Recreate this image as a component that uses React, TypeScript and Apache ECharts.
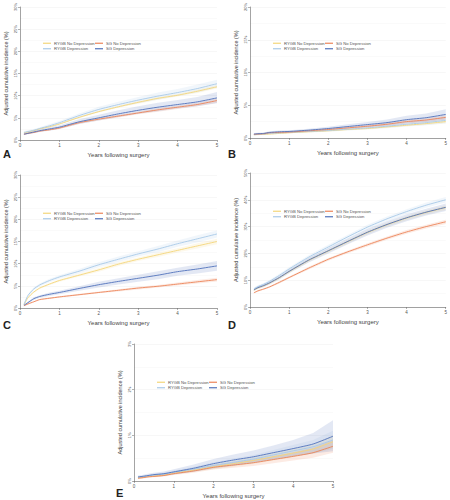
import React, { useEffect, useRef } from "react";
import * as echarts from "echarts";

// ---- data (percent) ----
const YEARS = [0.1, 0.2, 0.35, 0.5, 0.75, 1, 1.5, 2, 2.5, 3, 3.5, 4, 4.5, 5];
const SERIES_NAMES = ["RYGB No Depression", "RYGB Depression", "SG No Depression", "SG Depression"];
const COLORS = ["#F4D67A", "#A8C9E8", "#EC8559", "#5072BB"];
const PANEL_LETTERS = ["A", "B", "C", "D", "E"];
const Y_MAX = [30, 20, 30, 50, 3];
const Y_STEP = [5, 5, 5, 10, 1];
const X_TICKS = [0, 1, 2, 3, 4, 5];

// Panel A
const A_rygbNo = [1.6, 1.8, 2.1, 2.5, 3.0, 3.6, 5.1, 6.4, 7.5, 8.5, 9.4, 10.1, 11.0, 12.0];
const A_rygbNoLo = [1.5, 1.7, 2.0, 2.4, 2.9, 3.5, 4.9, 6.2, 7.3, 8.2, 9.1, 9.8, 10.6, 11.6];
const A_rygbNoHi = [1.7, 1.9, 2.2, 2.6, 3.1, 3.7, 5.3, 6.6, 7.7, 8.8, 9.7, 10.4, 11.4, 12.4];
const A_rygbDep = [1.7, 1.9, 2.2, 2.6, 3.2, 3.9, 5.5, 6.9, 8.0, 9.0, 9.9, 10.7, 11.6, 12.7];
const A_rygbDepLo = [1.4, 1.6, 1.9, 2.3, 2.8, 3.5, 5.0, 6.3, 7.4, 8.3, 9.1, 9.9, 10.7, 11.8];
const A_rygbDepHi = [2.0, 2.2, 2.5, 2.9, 3.6, 4.3, 6.0, 7.5, 8.6, 9.7, 10.7, 11.5, 12.5, 13.6];
const A_sgNo = [1.3, 1.5, 1.7, 2.0, 2.3, 2.7, 3.9, 4.7, 5.4, 6.1, 6.8, 7.4, 8.0, 8.9];
const A_sgNoLo = [1.2, 1.4, 1.6, 1.9, 2.2, 2.5, 3.6, 4.4, 5.1, 5.8, 6.4, 7.0, 7.6, 8.4];
const A_sgNoHi = [1.4, 1.6, 1.8, 2.1, 2.4, 2.9, 4.2, 5.0, 5.7, 6.4, 7.2, 7.8, 8.4, 9.4];
const A_sgDep = [1.3, 1.5, 1.8, 2.1, 2.5, 2.9, 4.1, 5.0, 5.9, 6.7, 7.4, 8.0, 8.6, 9.5];
const A_sgDepLo = [1.1, 1.3, 1.5, 1.8, 2.1, 2.5, 3.6, 4.4, 5.2, 5.9, 6.5, 7.1, 7.6, 8.3];
const A_sgDepHi = [1.5, 1.7, 2.1, 2.4, 2.9, 3.3, 4.7, 5.7, 6.7, 7.6, 8.4, 9.0, 9.7, 10.8];

// Panel B
const B_rygbNo = [0.5, 0.52, 0.55, 0.6, 0.7, 0.8, 0.95, 1.1, 1.3, 1.45, 1.7, 1.95, 2.2, 2.5];
const B_rygbNoLo = [0.45, 0.47, 0.5, 0.55, 0.64, 0.73, 0.87, 1.0, 1.18, 1.32, 1.55, 1.78, 2.0, 2.25];
const B_rygbNoHi = [0.55, 0.57, 0.6, 0.65, 0.76, 0.87, 1.03, 1.2, 1.42, 1.58, 1.85, 2.12, 2.4, 2.75];
const B_rygbDep = [0.5, 0.55, 0.6, 0.7, 0.78, 0.85, 1.0, 1.15, 1.35, 1.55, 1.8, 2.1, 2.35, 2.7];
const B_rygbDepLo = [0.4, 0.45, 0.5, 0.58, 0.65, 0.72, 0.85, 0.97, 1.13, 1.3, 1.5, 1.75, 1.95, 2.2];
const B_rygbDepHi = [0.6, 0.65, 0.7, 0.82, 0.91, 0.98, 1.15, 1.33, 1.57, 1.8, 2.1, 2.45, 2.75, 3.2];
const B_sgNo = [0.55, 0.6, 0.65, 0.8, 0.85, 0.9, 1.1, 1.3, 1.55, 1.8, 2.1, 2.5, 2.75, 3.15];
const B_sgNoLo = [0.48, 0.53, 0.58, 0.72, 0.76, 0.8, 0.98, 1.16, 1.38, 1.6, 1.87, 2.23, 2.45, 2.8];
const B_sgNoHi = [0.62, 0.67, 0.72, 0.88, 0.94, 1.0, 1.22, 1.44, 1.72, 2.0, 2.33, 2.77, 3.05, 3.5];
const B_sgDep = [0.6, 0.65, 0.7, 0.85, 0.95, 1.0, 1.2, 1.45, 1.75, 2.05, 2.35, 2.8, 3.1, 3.6];
const B_sgDepLo = [0.45, 0.5, 0.55, 0.68, 0.76, 0.8, 0.97, 1.17, 1.4, 1.65, 1.87, 2.22, 2.45, 2.8];
const B_sgDepHi = [0.75, 0.8, 0.85, 1.02, 1.14, 1.2, 1.43, 1.73, 2.1, 2.45, 2.83, 3.38, 3.75, 4.4];

// Panel C
const C_rygbNo = [0.7, 2.3, 3.6, 4.5, 5.4, 6.2, 7.4, 8.6, 9.9, 11.0, 12.0, 13.0, 14.0, 15.0];
const C_rygbNoLo = [0.6, 2.1, 3.4, 4.3, 5.2, 5.9, 7.1, 8.2, 9.5, 10.6, 11.5, 12.5, 13.4, 14.4];
const C_rygbNoHi = [0.8, 2.5, 3.8, 4.7, 5.6, 6.5, 7.7, 9.0, 10.3, 11.4, 12.5, 13.5, 14.6, 15.6];
const C_rygbDep = [0.8, 2.8, 4.3, 5.2, 6.2, 7.0, 8.3, 9.75, 11.0, 12.2, 13.3, 14.5, 15.6, 16.7];
const C_rygbDepLo = [0.6, 2.5, 4.0, 4.9, 5.8, 6.6, 7.8, 9.2, 10.4, 11.6, 12.6, 13.8, 14.8, 15.9];
const C_rygbDepHi = [1.0, 3.1, 4.6, 5.5, 6.6, 7.4, 8.8, 10.3, 11.6, 12.8, 14.0, 15.2, 16.4, 17.5];
const C_sgNo = [0.5, 0.9, 1.4, 1.9, 2.2, 2.5, 3.0, 3.5, 4.0, 4.5, 4.9, 5.4, 5.9, 6.4];
const C_sgNoLo = [0.4, 0.8, 1.3, 1.75, 2.05, 2.35, 2.8, 3.3, 3.75, 4.2, 4.6, 5.05, 5.5, 5.95];
const C_sgNoHi = [0.6, 1.0, 1.5, 2.05, 2.35, 2.65, 3.2, 3.7, 4.25, 4.8, 5.2, 5.75, 6.3, 6.85];
const C_sgDep = [0.6, 1.2, 2.1, 2.6, 3.1, 3.5, 4.4, 5.25, 6.0, 6.7, 7.4, 8.2, 8.8, 9.5];
const C_sgDepLo = [0.4, 1.0, 1.8, 2.3, 2.7, 3.1, 3.9, 4.6, 5.3, 5.9, 6.5, 7.3, 7.8, 8.4];
const C_sgDepHi = [0.8, 1.4, 2.4, 2.9, 3.5, 3.9, 4.9, 5.9, 6.7, 7.5, 8.3, 9.1, 9.8, 10.6];

// Panel D
const D_rygbNo = [6.3, 7.1, 7.9, 8.9, 10.9, 13.2, 17.4, 20.9, 24.4, 27.8, 30.7, 33.2, 35.3, 37.1];
const D_rygbNoLo = [6.0, 6.8, 7.6, 8.5, 10.5, 12.7, 16.8, 20.3, 23.7, 27.1, 30.0, 32.4, 34.5, 36.2];
const D_rygbNoHi = [6.6, 7.4, 8.2, 9.3, 11.3, 13.7, 18.0, 21.5, 25.1, 28.5, 31.4, 34.0, 36.1, 38.0];
const D_rygbDep = [6.8, 7.6, 8.5, 9.6, 11.8, 14.2, 18.6, 22.4, 26.2, 29.8, 32.9, 35.6, 38.0, 40.0];
const D_rygbDepLo = [6.3, 7.1, 8.0, 9.1, 11.2, 13.6, 17.9, 21.6, 25.4, 28.9, 32.0, 34.7, 37.0, 39.0];
const D_rygbDepHi = [7.3, 8.1, 9.0, 10.1, 12.4, 14.8, 19.3, 23.2, 27.0, 30.7, 33.8, 36.5, 39.0, 41.0];
const D_sgNo = [5.3, 6.0, 6.7, 7.5, 9.2, 11.0, 14.5, 17.8, 20.6, 23.2, 25.7, 28.0, 30.0, 31.8];
const D_sgNoLo = [5.0, 5.7, 6.4, 7.2, 8.8, 10.6, 14.0, 17.3, 20.1, 22.6, 25.1, 27.3, 29.3, 31.0];
const D_sgNoHi = [5.6, 6.3, 7.0, 7.8, 9.6, 11.4, 15.0, 18.3, 21.1, 23.8, 26.3, 28.7, 30.7, 32.6];
const D_sgDep = [6.4, 7.2, 8.0, 9.0, 11.0, 13.3, 17.5, 21.0, 24.5, 27.9, 30.8, 33.3, 35.4, 37.2];
const D_sgDepLo = [6.0, 6.7, 7.4, 8.4, 10.3, 12.6, 16.6, 20.0, 23.4, 26.7, 29.6, 32.0, 34.1, 35.8];
const D_sgDepHi = [6.8, 7.7, 8.6, 9.6, 11.7, 14.0, 18.4, 22.0, 25.6, 29.1, 32.0, 34.6, 36.7, 38.6];

// Panel E
const E_rygbNo = [0.07, 0.08, 0.1, 0.11, 0.13, 0.17, 0.24, 0.31, 0.38, 0.45, 0.53, 0.61, 0.7, 0.86];
const E_rygbNoLo = [0.05, 0.06, 0.08, 0.09, 0.11, 0.14, 0.2, 0.26, 0.32, 0.38, 0.45, 0.52, 0.6, 0.72];
const E_rygbNoHi = [0.09, 0.1, 0.12, 0.13, 0.15, 0.2, 0.28, 0.36, 0.44, 0.52, 0.61, 0.7, 0.8, 1.0];
const E_rygbDep = [0.08, 0.09, 0.11, 0.13, 0.15, 0.19, 0.26, 0.34, 0.41, 0.48, 0.57, 0.66, 0.75, 0.9];
const E_rygbDepLo = [0.06, 0.07, 0.09, 0.1, 0.12, 0.15, 0.21, 0.27, 0.33, 0.39, 0.46, 0.53, 0.6, 0.7];
const E_rygbDepHi = [0.1, 0.11, 0.13, 0.16, 0.18, 0.23, 0.31, 0.41, 0.49, 0.57, 0.68, 0.79, 0.9, 1.1];
const E_sgNo = [0.06, 0.07, 0.09, 0.1, 0.12, 0.16, 0.22, 0.3, 0.35, 0.4, 0.47, 0.54, 0.62, 0.76];
const E_sgNoLo = [0.04, 0.05, 0.07, 0.08, 0.1, 0.13, 0.18, 0.25, 0.29, 0.33, 0.39, 0.45, 0.51, 0.62];
const E_sgNoHi = [0.08, 0.09, 0.11, 0.12, 0.14, 0.19, 0.26, 0.35, 0.41, 0.47, 0.55, 0.63, 0.73, 0.9];
const E_sgDep = [0.09, 0.1, 0.12, 0.14, 0.16, 0.2, 0.28, 0.38, 0.46, 0.53, 0.62, 0.71, 0.81, 0.98];
const E_sgDepLo = [0.06, 0.07, 0.08, 0.1, 0.11, 0.14, 0.2, 0.28, 0.34, 0.4, 0.47, 0.54, 0.6, 0.65];
const E_sgDepHi = [0.12, 0.13, 0.16, 0.18, 0.21, 0.26, 0.36, 0.48, 0.58, 0.67, 0.78, 0.9, 1.05, 1.33];

const PANEL_DATA = [
  [[A_rygbNo, A_rygbNoLo, A_rygbNoHi], [A_rygbDep, A_rygbDepLo, A_rygbDepHi], [A_sgNo, A_sgNoLo, A_sgNoHi], [A_sgDep, A_sgDepLo, A_sgDepHi]],
  [[B_rygbNo, B_rygbNoLo, B_rygbNoHi], [B_rygbDep, B_rygbDepLo, B_rygbDepHi], [B_sgNo, B_sgNoLo, B_sgNoHi], [B_sgDep, B_sgDepLo, B_sgDepHi]],
  [[C_rygbNo, C_rygbNoLo, C_rygbNoHi], [C_rygbDep, C_rygbDepLo, C_rygbDepHi], [C_sgNo, C_sgNoLo, C_sgNoHi], [C_sgDep, C_sgDepLo, C_sgDepHi]],
  [[D_rygbNo, D_rygbNoLo, D_rygbNoHi], [D_rygbDep, D_rygbDepLo, D_rygbDepHi], [D_sgNo, D_sgNoLo, D_sgNoHi], [D_sgDep, D_sgDepLo, D_sgDepHi]],
  [[E_rygbNo, E_rygbNoLo, E_rygbNoHi], [E_rygbDep, E_rygbDepLo, E_rygbDepHi], [E_sgNo, E_sgNoLo, E_sgNoHi], [E_sgDep, E_sgDepLo, E_sgDepHi]],
];

// ---- layout ----
const GRIDS = [
  { left: 20, top: 5, width: 197, height: 135 },
  { left: 250, top: 5, width: 198, height: 133 },
  { left: 20, top: 175, width: 197, height: 133 },
  { left: 250, top: 173, width: 198, height: 134 },
  { left: 134, top: 344, width: 199, height: 137 },
];
const LETTER_POS = [
  [3, 148],
  [228, 148],
  [3, 319],
  [228, 319],
  [116, 487],
];

const FONT = "'Liberation Sans', Arial, sans-serif";
const AXIS_COLOR = "#666";

function bandSeries(p: number, lo: number[], hi: number[], color: string) {
  return {
    type: "custom",
    xAxisIndex: p,
    yAxisIndex: p,
    silent: true,
    z: 1,
    clip: true,
    data: YEARS.map((x, i) => [x, lo[i], hi[i]]),
    encode: { x: 0, y: [1, 2] },
    renderItem: (params: any, api: any) => {
      if (params.dataIndex !== 0) return null;
      const upper = YEARS.map((x, i) => api.coord([x, hi[i]]));
      const lower = YEARS.map((x, i) => api.coord([x, lo[i]])).reverse();
      return {
        type: "polygon",
        shape: { points: upper.concat(lower) },
        style: { fill: color, opacity: 0.16 },
        silent: true,
      };
    },
  };
}

function buildOption() {
  const grid: any[] = [];
  const xAxis: any[] = [];
  const yAxis: any[] = [];
  const series: any[] = [];
  const legend: any[] = [];
  const graphic: any[] = [];

  GRIDS.forEach((g, p) => {
    grid.push({ ...g, containLabel: false });
    xAxis.push({
      type: "value",
      gridIndex: p,
      min: X_TICKS[0],
      max: X_TICKS[X_TICKS.length - 1],
      interval: 1,
      name: "Years following surgery",
      nameLocation: "middle",
      nameGap: 12,
      nameTextStyle: { fontSize: 6, color: "#444", fontWeight: "normal", fontFamily: FONT },
      axisLine: { show: true, lineStyle: { color: AXIS_COLOR, width: 0.6 } },
      axisTick: { show: true, length: 2, lineStyle: { color: AXIS_COLOR, width: 0.5 } },
      axisLabel: { fontSize: 4.5, color: "#555", margin: 3, fontFamily: FONT },
      splitLine: { show: false },
    });
    yAxis.push({
      type: "value",
      gridIndex: p,
      min: 0,
      max: Y_MAX[p],
      interval: Y_STEP[p],
      name: "Adjusted cumulative incidence (%)",
      nameLocation: "middle",
      nameRotate: 90,
      nameGap: 11,
      nameTextStyle: { fontSize: 5.5, color: "#444", fontWeight: "normal", fontFamily: FONT },
      axisLine: { show: true, lineStyle: { color: AXIS_COLOR, width: 0.6 } },
      axisTick: { show: true, length: 2, lineStyle: { color: AXIS_COLOR, width: 0.5 } },
      axisLabel: { fontSize: 4, color: "#555", margin: 3, rotate: 90, formatter: "{value}%", fontFamily: FONT },
      splitLine: { show: true, lineStyle: { color: "#eeeeee", width: 0.5 } },
      minorTick: { show: false, splitNumber: 2 },
      minorSplitLine: { show: true, lineStyle: { color: "#f4f4f4", width: 0.5 } },
    });

    // bands first
    PANEL_DATA[p].forEach((s, k) => {
      series.push(bandSeries(p, s[1], s[2], COLORS[k]));
    });
    // lines
    PANEL_DATA[p].forEach((s, k) => {
      series.push({
        type: "line",
        name: SERIES_NAMES[k],
        xAxisIndex: p,
        yAxisIndex: p,
        z: 3,
        color: COLORS[k],
        showSymbol: false,
        symbol: "none",
        smooth: 0.2,
        lineStyle: { width: 0.9, color: COLORS[k] },
        data: YEARS.map((x, i) => [x, s[0][i]]),
      });
    });

    // legends (two columns)
    const baseLeft = g.left + 23;
    const baseTop = g.top + 36;
    [[SERIES_NAMES[0], SERIES_NAMES[1]], [SERIES_NAMES[2], SERIES_NAMES[3]]].forEach((names, c) => {
      legend.push({
        data: names,
        orient: "vertical",
        left: baseLeft + c * 52,
        top: baseTop,
        padding: 0,
        itemGap: 1,
        itemWidth: 8,
        itemHeight: 1.2,
        icon: "rect",
        selectedMode: false,
        textStyle: { fontSize: 4.2, lineHeight: 4.5, color: "#555", fontFamily: FONT, padding: [0, 0, 0, -2] },
      });
    });

    graphic.push({
      type: "text",
      left: LETTER_POS[p][0],
      top: LETTER_POS[p][1],
      style: { text: PANEL_LETTERS[p], fontSize: 11, fontWeight: "bold", fill: "#222", fontFamily: FONT },
    });
  });

  return {
    animation: false,
    backgroundColor: "#fff",
    grid,
    xAxis,
    yAxis,
    legend,
    series,
    graphic,
  };
}

export default function App() {
  const ref = useRef<HTMLDivElement>(null);
  useEffect(() => {
    if (!ref.current) return;
    const chart = echarts.init(ref.current, null, { renderer: "svg" });
    chart.setOption(buildOption() as any);
    return () => chart.dispose();
  }, []);
  return (
    <div
      ref={ref}
      style={{ position: "absolute", left: 0, top: 0, width: 450, height: 500, background: "#fff" }}
    />
  );
}
